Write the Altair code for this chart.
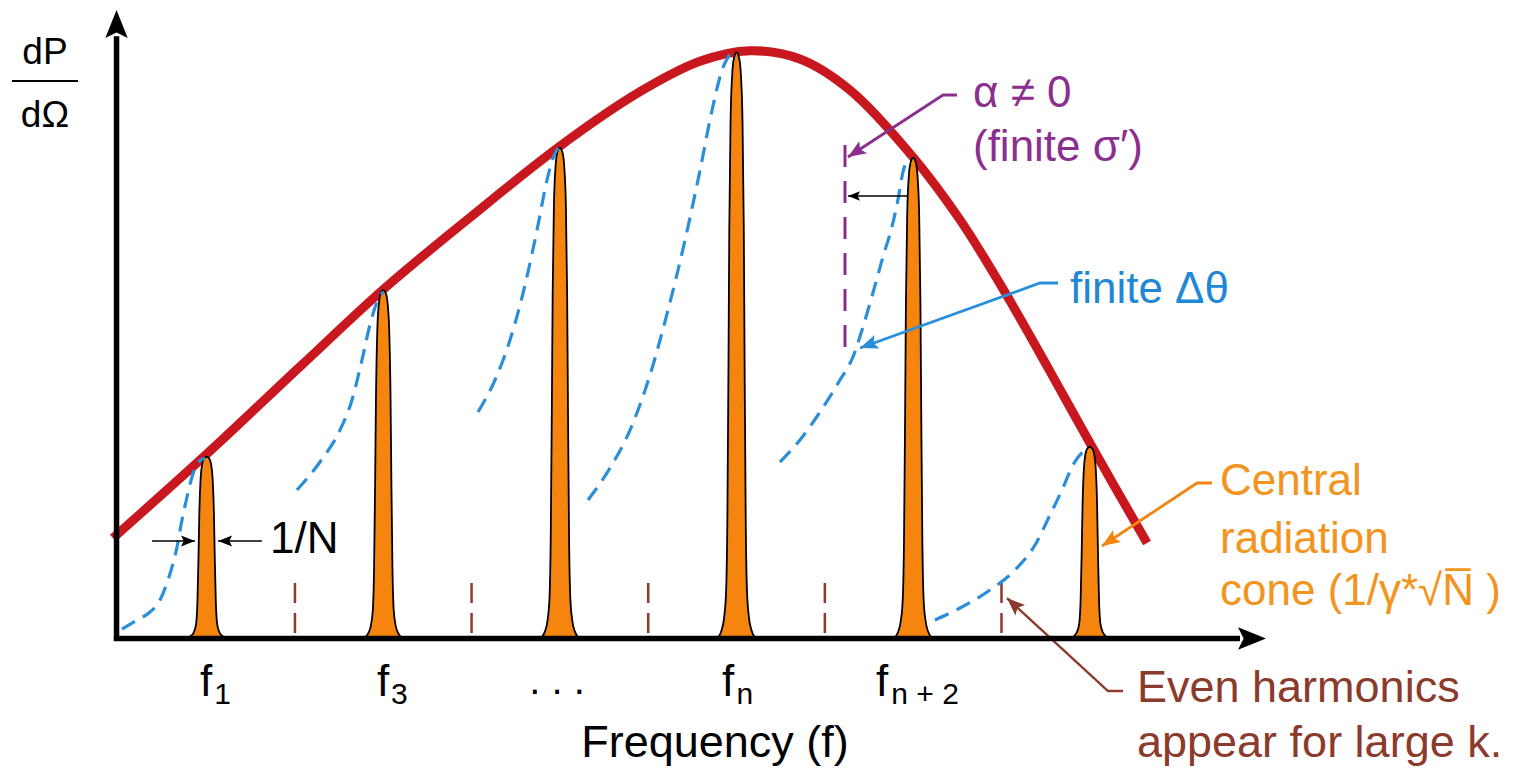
import altair as alt
import pandas as pd

# ---------------- data (x: harmonic number, y: dP/dOmega relative to f_n peak = 100)
peak_harm = [1, 3, 5, 7, 9, 11]
peak_height = [30.9, 59.4, 83.7, 100.0, 82.0, 32.6]

even_harm = [2, 4, 6, 8, 10]
even_top = [9.3, 9.3, 9.3, 9.3, 9.3]

# profile of one orange harmonic line: half-width (harmonic units) at fraction of its height
shape_frac = [0.0, 0.012, 0.035, 0.08, 0.2, 0.45, 0.7, 0.88, 0.96, 0.99, 1.0]
shape_halfw = [0.21, 0.17, 0.14, 0.118, 0.104, 0.092, 0.082, 0.068, 0.05, 0.03, 0.0]

# red envelope
env_x = [-0.06, 1.018, 2.057, 3.008, 3.982, 5.001, 5.907, 6.586, 7.15, 7.717, 8.283,
         9.005, 9.530, 10.04, 10.549, 11.025, 11.648]
env_y = [17.0, 31.6, 46.3, 59.6, 71.8, 84.0, 93.3, 98.5, 100.3, 98.9, 93.6,
         82.0, 71.4, 59.0, 45.5, 32.6, 16.15]

# blue dashed (finite delta-theta) curves
dash_a_x = [0.042, 0.212, 0.359, 0.472, 0.551, 0.608, 0.665, 0.721, 0.778, 0.834, 0.902, 0.982]
dash_a_y = [1.45, 2.99, 4.36, 6.41, 9.32, 12.05, 15.47, 20.09, 24.02, 27.44, 29.83, 30.68]
dash_b_x = [2.023, 2.283, 2.510, 2.646, 2.759, 2.849, 2.929, 2.997]
dash_b_y = [25.21, 30.0, 35.47, 40.6, 47.44, 53.42, 57.35, 59.06]
dash_c_x = [4.073, 4.265, 4.435, 4.605, 4.741, 4.854, 4.922, 4.979]
dash_c_y = [38.55, 44.02, 50.85, 60.26, 69.66, 78.21, 81.97, 83.68]
dash_d_x = [5.318, 5.567, 5.794, 6.020, 6.224, 6.417, 6.587, 6.723, 6.836, 6.926]
dash_d_y = [23.5, 28.97, 35.47, 44.87, 55.98, 67.95, 79.91, 90.17, 97.01, 99.74]
dash_e_x = [7.492, 7.718, 7.945, 8.171, 8.318, 8.431, 8.544, 8.657, 8.759, 8.827, 8.884, 8.963]
dash_e_y = [30.0, 33.76, 38.55, 44.02, 47.95, 53.08, 58.89, 65.04, 70.17, 74.79, 79.57, 81.97]
dash_f_x = [9.247, 9.530, 9.870, 10.153, 10.379, 10.549, 10.685, 10.810, 10.923, 11.002]
dash_f_y = [2.99, 5.04, 8.12, 11.54, 15.81, 20.94, 25.21, 29.49, 31.71, 32.22]

# purple dashed marker (alpha != 0 shift)
shift_x = [8.228]
shift_top = [84.2]
shift_bot = [47.4]

# annotation arrows (shafts): id, points
arrow_id = ["pur", "pur", "pur", "blu", "blu", "blu", "ora", "ora", "ora", "bro", "bro", "bro",
            "alp", "alp", "nl", "nl", "nr", "nr"]
arrow_x = [9.496, 9.338, 8.262, 10.640, 10.436, 8.398, 12.384, 12.214, 11.138, 11.375, 11.206, 10.062,
           8.941, 8.262, 0.383, 0.868, 1.627, 1.130]
arrow_y = [92.74, 92.74, 82.14, 60.60, 60.60, 49.49, 26.41, 26.41, 15.64, -9.15, -9.15, 6.75,
           75.47, 75.47, 16.5, 16.5, 16.5, 16.5]

# arrow heads: tip position and pointing angle
head_x = [-0.02, 12.995, 8.262, 8.398, 11.138, 10.062, 8.262, 0.868, 1.130]
head_y = [107.26, -0.17, 82.14, 49.49, 15.64, 6.75, 75.47, 16.5, 16.5]
head_ang = [0, 90, 237, 250, 236.5, 312.6, 270, 90, 270]

# axes
axis_x1 = [-0.02, -0.05]
axis_x2 = [-0.02, 12.70]
axis_y1 = [-0.6, -0.17]
axis_y2 = [102.8, -0.17]

# texts
ann_text = ["1/N", "α ≠ 0", "(finite σ′)", "finite Δθ", "Central", "radiation",
            "cone (1/γ*√N̅ )", "Even harmonics", "appear for large k."]
ann_x = [1.718, 9.677, 9.677, 10.775, 12.474, 12.474, 12.474, 11.534, 11.534]
ann_y = [14.44, 90.68, 81.45, 57.18, 24.36, 14.44, 5.56, -11.03, -20.43]
ann_fs = [44, 44, 44, 44, 44, 44, 44, 45, 45]

ctr_text = ["dP", "dΩ", "Frequency (f)", ". . ."]
ctr_x = [-0.83, -0.83, 6.756, 4.967]
ctr_y = [98.0, 87.3, -20.43, -9.6]
ctr_fs = [37, 37, 45, 40]

flab_text = ["f", "f", "f", "f"]
flab_x = [0.925, 2.929, 6.835, 8.579]
flab_y = [-10.0, -10.0, -10.0, -10.0]
sub_text = ["1", "3", "n", "n + 2"]
sub_x = [1.085, 3.089, 7.0, 8.752]
sub_y = [-11.37, -11.37, -11.37, -11.37]

# ---------------- colours / styles
RED = "#C8171E"
ORANGE = "#F5850F"
ORANGE_T = "#F39420"
BLUE = "#2A8FD8"
BLUE_T = "#1E88D6"
PURPLE = "#8B2F8F"
BROWN = "#8B3B2B"
FONT = "Liberation Sans, Arial, sans-serif"

xs = alt.Scale(domain=[-1.2489, 15.8254], nice=False, zero=False)
ys = alt.Scale(domain=[-23.33, 107.61], nice=False, zero=False)


def X(f="x"):
    return alt.X(f + ":Q", scale=xs, axis=None)


def Y(f="y"):
    return alt.Y(f + ":Q", scale=ys, axis=None)


# peaks polygon table
rows = []
for k, (c, hgt) in enumerate(zip(peak_harm, peak_height)):
    n = len(shape_frac)
    for i in range(n):
        rows.append({"pk": k, "x": c - shape_halfw[i], "y": shape_frac[i] * hgt, "base": 0.0})
    for i in range(n - 2, -1, -1):
        rows.append({"pk": k, "x": c + shape_halfw[i], "y": shape_frac[i] * hgt, "base": 0.0})
peaks_df = pd.DataFrame(rows)

dash_rows = []
for name, xx, yy in [("a", dash_a_x, dash_a_y), ("b", dash_b_x, dash_b_y), ("c", dash_c_x, dash_c_y),
                     ("d", dash_d_x, dash_d_y), ("e", dash_e_x, dash_e_y), ("f", dash_f_x, dash_f_y)]:
    for a, b in zip(xx, yy):
        dash_rows.append({"c": name, "x": a, "y": b})
dash_df = pd.DataFrame(dash_rows)

env_df = pd.DataFrame({"x": env_x, "y": env_y})
even_df = pd.DataFrame({"x": even_harm, "y": even_top, "y2": [0.0] * len(even_harm)})
shift_df = pd.DataFrame({"x": shift_x, "y": shift_top, "y2": shift_bot})

col_map = {"pur": PURPLE, "blu": BLUE, "ora": ORANGE, "bro": BROWN, "alp": "black", "nl": "black", "nr": "black"}
w_map = {"pur": 2.8, "blu": 2.8, "ora": 2.8, "bro": 2.4, "alp": 1.6, "nl": 1.6, "nr": 1.6}
arr_df = pd.DataFrame({"id": arrow_id, "x": arrow_x, "y": arrow_y})
arr_df["ord"] = range(len(arr_df))
arr_df["col"] = [col_map[i] for i in arrow_id]
arr_df["w"] = [w_map[i] for i in arrow_id]

head_col = ["black", "black", PURPLE, BLUE, ORANGE, BROWN, "black", "black", "black"]
head_sz = [3136, 3136, 1296, 1296, 1296, 1296, 576, 784, 784]
head_df = pd.DataFrame({"x": head_x, "y": head_y, "ang": head_ang, "col": head_col, "sz": head_sz})

axis_df = pd.DataFrame({"x": axis_x1, "x2": axis_x2, "y": axis_y1, "y2": axis_y2})
frac_df = pd.DataFrame({"x": [-1.204], "x2": [-0.456], "y": [95.13]})

ann_col = ["black", PURPLE, PURPLE, BLUE_T, ORANGE_T, ORANGE_T, ORANGE_T, BROWN, BROWN]
ann_df = pd.DataFrame({"x": ann_x, "y": ann_y, "t": ann_text, "col": ann_col, "fs": ann_fs})
ctr_df = pd.DataFrame({"x": ctr_x, "y": ctr_y, "t": ctr_text, "fs": ctr_fs})
flab_df = pd.DataFrame({"x": flab_x + sub_x, "y": flab_y + sub_y, "t": flab_text + sub_text,
                        "fs": [44] * 4 + [30] * 4})

HEAD = "M0,0L0.4,1L0,0.8L-0.4,1Z"

even_layer = alt.Chart(even_df).mark_rule(color=BROWN, strokeWidth=2.5, strokeDash=[20, 10]).encode(
    x=X(), y=Y(), y2="y2:Q")
env_layer = alt.Chart(env_df).mark_line(color=RED, strokeWidth=9, interpolate="catmull-rom",
                                        strokeCap="butt").encode(x=X(), y=Y())
peak_layer = alt.Chart(peaks_df).mark_area(fill=ORANGE, stroke="black", strokeWidth=1.8,
                                           interpolate="monotone", opacity=1).encode(
    x=X(), y=Y(), y2="base:Q", detail="pk:N")
dash_layer = alt.Chart(dash_df).mark_line(color=BLUE, strokeWidth=3.2, strokeDash=[15, 9],
                                          interpolate="monotone").encode(x=X(), y=Y(), detail="c:N")
shift_layer = alt.Chart(shift_df).mark_rule(color=PURPLE, strokeWidth=3, strokeDash=[22, 14]).encode(
    x=X(), y=Y(), y2="y2:Q")
arr_layer = alt.Chart(arr_df).mark_line().encode(
    x=X(), y=Y(), detail="id:N", order="ord:Q",
    color=alt.Color("col:N", scale=None), size=alt.Size("w:Q", scale=None))
axis_layer = alt.Chart(axis_df).mark_rule(color="black", strokeWidth=5.5).encode(
    x=X(), x2="x2:Q", y=Y(), y2="y2:Q")
frac_layer = alt.Chart(frac_df).mark_rule(color="black", strokeWidth=2).encode(x=X(), x2="x2:Q", y=Y())
head_layer = alt.Chart(head_df).mark_point(shape=HEAD, filled=True, opacity=1, strokeWidth=0).encode(
    x=X(), y=Y(), angle=alt.Angle("ang:Q", scale=None),
    color=alt.Color("col:N", scale=None), size=alt.Size("sz:Q", scale=None))
ann_layer = alt.Chart(ann_df).mark_text(align="left", baseline="alphabetic", font=FONT).encode(
    x=X(), y=Y(), text="t:N", color=alt.Color("col:N", scale=None), size=alt.Size("fs:Q", scale=None))
ctr_layer = alt.Chart(ctr_df).mark_text(align="center", baseline="alphabetic", font=FONT, color="black").encode(
    x=X(), y=Y(), text="t:N", size=alt.Size("fs:Q", scale=None))
flab_layer = alt.Chart(flab_df).mark_text(align="left", baseline="alphabetic", font=FONT, color="black").encode(
    x=X(), y=Y(), text="t:N", size=alt.Size("fs:Q", scale=None))

chart = alt.layer(
    even_layer, env_layer, peak_layer, dash_layer, shift_layer, arr_layer, axis_layer, frac_layer,
    head_layer, ann_layer, ctr_layer, flab_layer
).properties(
    width=1508, height=766, padding=0, autosize=alt.AutoSizeParams(type="none"), background="white"
).configure_view(stroke=None)

chart.save("out.html", embed_options={"renderer": "svg", "actions": False})
